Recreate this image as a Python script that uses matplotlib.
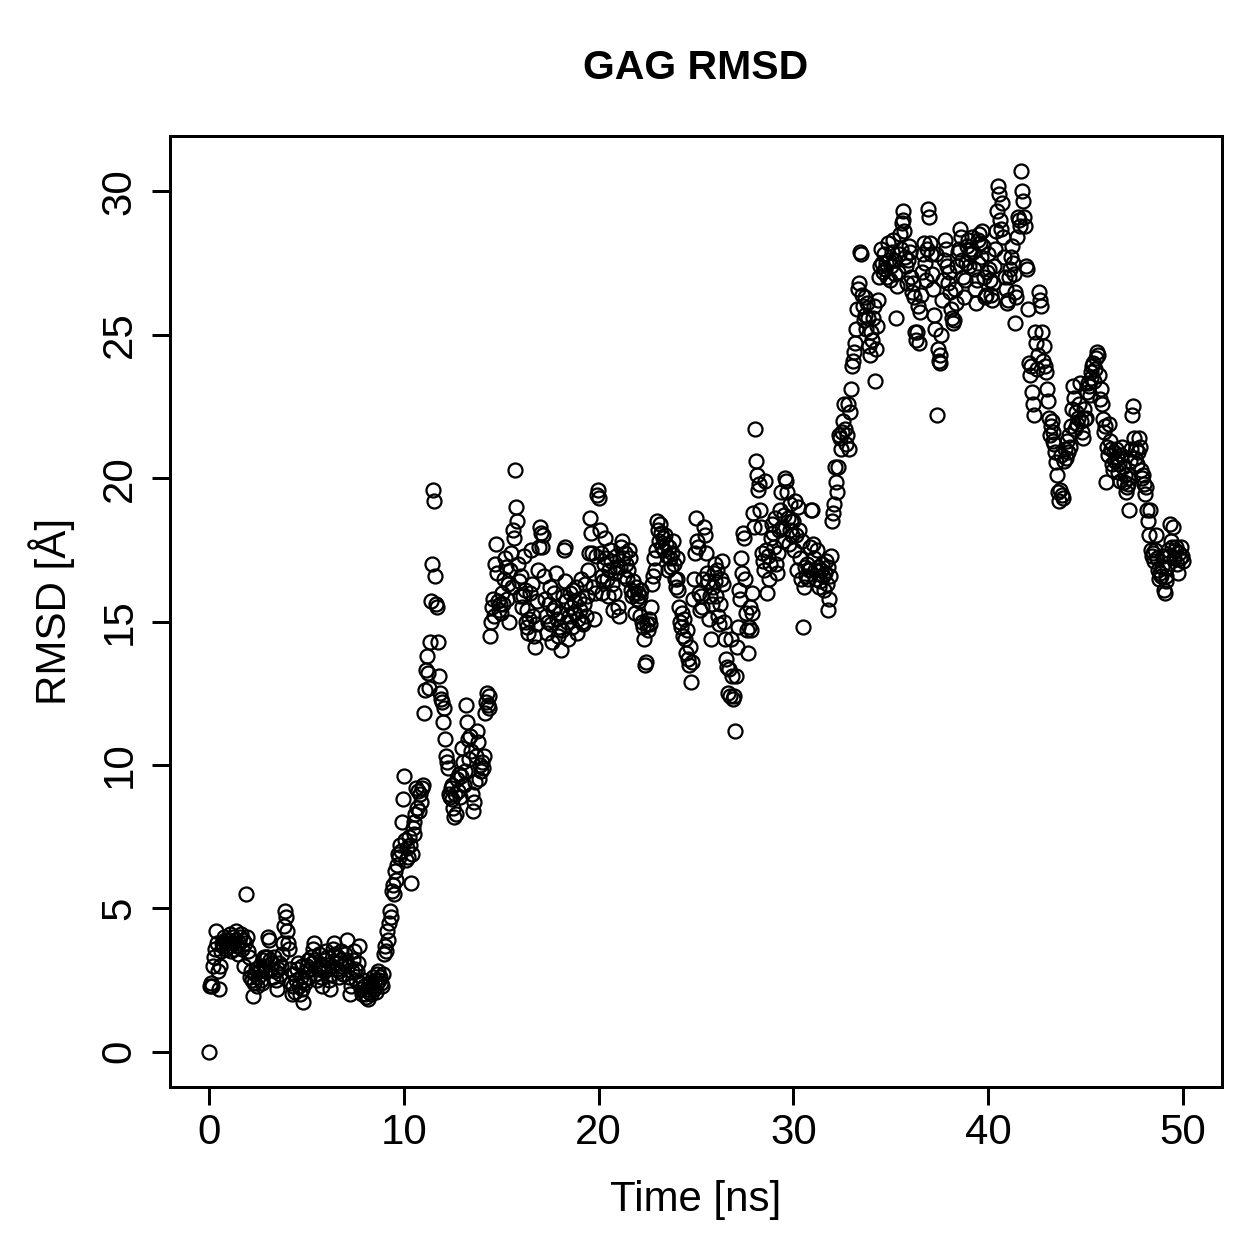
import numpy as np
import matplotlib
matplotlib.use("Agg")
import matplotlib.pyplot as plt

plt.rcParams['font.family'] = ['Liberation Sans', 'DejaVu Sans']

rmsd_00_05 = [
    0.0, 2.3, 2.4, 2.3, 3.0, 3.3, 3.6, 4.2, 3.8, 2.8, 2.2, 3.0, 3.5, 3.8, 3.7, 4.0, 3.9, 3.6, 3.8, 3.9,
    3.7, 3.9, 4.1, 3.5, 3.8, 4.0, 3.6, 3.9, 4.2, 3.7, 3.4, 3.8, 4.0, 4.1, 3.6, 3.9, 3.0, 3.8, 5.5, 4.0,
    3.5, 3.3, 2.6, 2.8, 2.5, 1.95, 2.4, 2.7, 2.9, 2.3, 2.6, 2.8, 3.0, 2.5, 2.4, 3.2, 3.3, 3.0, 2.8, 3.3,
    3.3, 4.0, 3.9, 3.2, 2.9, 3.1, 2.6, 3.3, 2.8, 2.5, 2.2, 2.9, 3.1, 2.7, 3.0, 3.4, 3.8, 4.4, 4.9, 4.7,
    4.2, 3.8, 3.6, 2.9, 2.4, 2.0, 2.3, 2.7, 2.1, 2.5, 2.9, 3.1, 2.3, 2.0, 2.6, 3.0, 2.2, 1.75, 2.5, 2.4,
]
rmsd_05_10 = [
    2.8, 3.0, 3.2, 2.6, 2.9, 3.3, 3.1, 3.6, 3.8, 3.2, 2.7, 2.5, 2.9, 3.4, 3.0, 2.6, 2.3, 3.0, 2.8, 3.2,
    3.5, 3.3, 2.9, 2.5, 2.2, 2.7, 3.0, 3.6, 3.8, 3.4, 3.1, 2.9, 3.3, 2.6, 2.8, 3.2, 3.5, 3.0, 2.7, 3.1,
    3.4, 3.2, 3.9, 3.0, 2.6, 2.0, 2.3, 2.8, 3.2, 3.5, 2.9, 2.5, 2.8, 3.1, 3.7, 2.4, 2.2, 2.0, 2.5, 2.3,
    2.0, 1.9, 2.2, 1.85, 2.1, 2.4, 2.0, 2.3, 2.6, 2.2, 2.5, 2.1, 2.7, 2.4, 2.8, 2.5, 2.6, 2.4, 2.3, 2.7,
    3.4, 3.7, 3.5, 4.2, 3.9, 4.5, 4.9, 4.7, 5.6, 5.8, 5.5, 6.3, 6.0, 6.5, 6.9, 6.8, 7.2, 7.0, 8.0, 8.8,
]
rmsd_10_15 = [
    9.6, 7.4, 6.7, 7.1, 6.8, 7.5, 7.2, 5.9, 6.9, 7.8, 8.0, 7.6, 8.3, 9.2, 8.5, 9.1, 8.4, 9.0, 8.7, 9.2,
    9.3, 11.8, 12.6, 13.3, 13.8, 13.2, 12.7, 14.3, 15.7, 17.0, 19.6, 19.2, 16.6, 15.6, 15.5, 14.3, 13.1, 12.5, 12.3, 12.2,
    11.5, 12.0, 10.9, 10.3, 10.1, 9.9, 9.0, 8.9, 9.2, 8.8, 9.3, 8.5, 8.2, 9.0, 8.3, 9.5, 9.1, 9.7, 8.9, 9.6,
    10.6, 10.1, 9.3, 9.8, 12.1, 11.5, 10.9, 10.2, 11.0, 10.5, 9.0, 8.4, 8.7, 9.4, 10.3, 11.2, 10.8, 9.5, 10.0, 9.8,
    10.1, 9.9, 10.3, 11.8, 12.2, 12.5, 12.1, 12.0, 12.4, 14.5, 15.0, 15.5, 15.8, 15.2, 17.0, 17.7, 16.7, 15.7, 15.4, 15.6,
]
rmsd_15_20 = [
    15.3, 16.0, 15.6, 16.5, 17.2, 16.9, 15.8, 16.3, 15.0, 16.8, 17.4, 16.2, 18.2, 17.9, 20.3, 19.0, 18.5, 17.0, 16.4, 15.9,
    16.6, 15.5, 15.9, 17.3, 16.1, 15.0, 14.8, 15.4, 14.6, 15.1, 16.0, 17.5, 16.3, 15.2, 14.5, 14.1, 14.9, 15.7, 16.8, 17.6,
    18.3, 18.1, 17.6, 18.0, 16.6, 15.8, 15.2, 14.6, 15.0, 15.6, 16.2, 14.9, 14.3, 15.4, 16.0, 15.5, 16.7, 15.1, 14.5, 14.8,
    15.3, 14.0, 14.7, 15.9, 17.5, 17.6, 16.4, 15.7, 15.0, 14.4, 15.2, 16.0, 15.5, 14.8, 16.1, 15.7, 15.3, 16.2, 14.6, 15.1,
    15.8, 15.4, 16.5, 15.0, 14.9, 15.6, 16.3, 15.2, 15.9, 16.8, 17.4, 18.6, 18.1, 17.4, 16.2, 15.1, 16.0, 17.3, 19.4, 19.6,
]
rmsd_20_25 = [
    19.3, 18.2, 17.4, 16.6, 16.0, 16.4, 17.0, 17.9, 17.2, 16.5, 15.9, 16.8, 17.5, 17.1, 16.3, 15.4, 16.0, 16.7, 17.3, 16.9,
    15.5, 15.2, 16.9, 17.6, 17.8, 17.2, 16.6, 17.4, 17.0, 16.5, 16.8, 17.5, 17.2, 16.1, 15.9, 16.4, 16.0, 15.3, 16.2, 15.8,
    16.0, 15.7, 15.9, 15.2, 16.1, 15.0, 14.8, 14.4, 13.5, 13.6, 14.9, 14.7, 15.1, 14.9, 15.5, 16.3, 16.6, 17.2, 16.8, 17.5,
    18.5, 18.2, 17.8, 18.4, 18.1, 17.6, 17.9, 17.5, 18.0, 17.7, 17.3, 16.8, 17.6, 17.2, 16.9, 17.4, 17.8, 17.0, 16.5, 16.2,
    17.2, 16.5, 16.1, 15.5, 15.0, 14.8, 15.3, 14.5, 15.1, 14.4, 13.9, 14.7, 13.7, 13.5, 14.1, 12.9, 13.6, 15.8, 16.5, 17.4,
]
rmsd_25_30 = [
    18.6, 17.8, 17.6, 16.0, 15.4, 15.9, 15.5, 16.5, 18.3, 18.0, 17.4, 16.7, 16.4, 15.1, 15.9, 14.4, 15.6, 16.2, 16.7, 17.0,
    16.4, 15.9, 16.8, 15.2, 14.9, 15.6, 16.5, 17.1, 16.3, 15.0, 14.4, 13.7, 13.4, 12.5, 13.35, 12.4, 14.4, 13.1, 12.3, 12.4,
    11.2, 13.1, 14.1, 14.8, 16.1, 15.8, 17.2, 16.7, 18.1, 17.9, 16.5, 15.3, 14.7, 13.9, 14.8, 15.5, 14.7, 15.3, 16.0, 18.8,
    18.3, 21.7, 20.6, 20.1, 19.6, 19.8, 18.9, 18.3, 17.4, 17.1, 16.8, 19.9, 17.5, 16.0, 17.3, 16.5, 17.0, 17.9, 18.4, 18.1,
    17.6, 18.6, 17.0, 16.7, 17.4, 18.2, 18.9, 19.5, 18.3, 17.8, 18.7, 20.0, 19.9, 19.5, 18.6, 17.7, 18.2, 19.1, 18.5, 18.0,
]
rmsd_30_35 = [
    18.5, 17.5, 19.2, 18.0, 16.8, 19.0, 18.2, 17.2, 16.5, 17.8, 14.8, 16.2, 16.9, 16.6, 17.0, 16.5, 16.8, 17.6, 18.9, 18.9,
    17.7, 17.2, 16.8, 16.5, 17.5, 16.9, 16.2, 16.4, 16.8, 17.0, 16.6, 16.1, 16.7, 17.1, 16.3, 16.9, 15.4, 15.8, 16.6, 17.3,
    18.5, 18.8, 19.1, 20.4, 19.85, 19.5, 20.4, 21.5, 21.4, 21.0, 21.6, 22.0, 22.6, 21.7, 21.2, 21.5, 22.6, 21.0, 22.3, 23.1,
    23.9, 24.1, 24.4, 24.7, 25.2, 25.9, 26.6, 26.8, 27.9, 27.8, 26.4, 26.0, 25.5, 26.3, 25.7, 25.2, 26.1, 25.6, 24.6, 24.3,
    25.1, 24.8, 25.6, 26.0, 23.4, 24.5, 25.3, 26.2, 27.0, 27.4, 28.0, 27.5, 27.2, 27.8, 27.3, 27.5, 27.0, 28.2, 27.6, 26.9,
]
rmsd_35_40 = [
    27.4, 27.9, 28.3, 27.6, 27.1, 25.6, 26.7, 27.2, 27.8, 28.5, 28.0, 28.9, 29.3, 29.0, 28.6, 27.7, 27.4, 26.8, 27.6, 28.1,
    27.9, 27.0, 26.5, 26.8, 26.3, 25.1, 24.8, 25.1, 26.0, 24.7, 25.8, 26.4, 27.2, 27.8, 28.2, 27.5, 26.9, 28.0, 29.4, 29.1,
    28.2, 27.8, 27.1, 26.6, 25.7, 25.2, 27.8, 22.2, 24.5, 24.1, 24.0, 24.3, 25.0, 26.2, 26.9, 27.6, 28.3, 28.0, 27.4, 26.8,
    27.2, 26.5, 25.9, 25.6, 25.4, 25.5, 26.6, 26.1, 27.4, 27.9, 28.0, 28.7, 28.4, 27.6, 27.0, 26.3, 26.9, 27.5, 28.1, 28.3,
    27.4, 27.8, 28.0, 28.4, 27.9, 27.3, 26.6, 26.1, 26.9, 27.5, 28.3, 28.5, 28.2, 27.7, 28.6, 28.1, 27.0, 26.3, 26.4, 27.2,
]
rmsd_40_45 = [
    27.8, 27.3, 26.9, 26.4, 26.2, 26.8, 27.4, 28.0, 28.6, 29.3, 30.2, 29.9, 29.0, 28.7, 29.6, 28.4, 27.7, 27.0, 26.6, 26.1,
    26.2, 27.0, 27.3, 27.7, 28.1, 27.5, 27.1, 26.5, 25.4, 26.3, 28.4, 29.1, 29.0, 28.8, 30.7, 30.0, 29.65, 29.1, 28.8, 27.4,
    27.3, 25.9, 24.0, 23.6, 23.9, 23.0, 22.6, 22.2, 25.1, 24.7, 23.8, 24.3, 26.5, 26.2, 26.0, 25.1, 24.1, 24.6, 23.9, 23.7,
    23.1, 22.7, 22.1, 21.5, 21.8, 22.0, 21.3, 21.6, 21.2, 20.9, 20.55, 20.1, 19.5, 19.2, 19.6, 20.8, 19.4, 19.3, 20.6, 21.0,
    20.7, 21.3, 20.9, 21.5, 21.1, 21.8, 22.4, 23.2, 22.8, 21.7, 22.3, 21.9, 22.1, 22.6, 23.3, 22.0, 21.6, 21.4, 22.4, 22.05,
]
rmsd_45_50 = [
    22.1, 23.0, 23.3, 23.2, 22.9, 23.5, 23.7, 23.9, 24.0, 23.4, 23.8, 24.2, 24.4, 24.3, 23.6, 22.75, 23.1, 22.6, 22.05, 21.6,
    21.8, 19.85, 21.1, 20.8, 21.9, 21.3, 21.0, 20.5, 20.3, 20.9, 20.6, 21.0, 20.7, 20.2, 20.5, 19.9, 20.8, 21.1, 20.4, 19.85,
    20.1, 19.5, 19.7, 20.0, 19.8, 18.9, 20.6, 21.0, 22.2, 22.5, 21.4, 20.7, 21.0, 20.5, 20.9, 21.4, 21.1, 20.3, 20.0, 20.1,
    19.8, 19.45, 19.7, 18.9, 18.5, 18.0, 18.9, 17.5, 17.3, 17.4, 17.1, 17.5, 18.0, 17.2, 16.8, 16.5, 16.7, 16.6, 16.9, 17.3,
    16.1, 16.0, 16.6, 16.4, 16.9, 17.5, 17.3, 18.4, 17.8, 17.6, 18.3, 17.2, 17.5, 17.6, 17.0, 16.7, 17.4, 17.2, 17.6, 17.3,
    17.1,
]

rmsd = np.array(rmsd_00_05 + rmsd_05_10 + rmsd_10_15 + rmsd_15_20 + rmsd_20_25
                + rmsd_25_30 + rmsd_30_35 + rmsd_35_40 + rmsd_40_45 + rmsd_45_50)
time_ns = np.linspace(0, 50, len(rmsd))

x_ticks = [0, 10, 20, 30, 40, 50]
y_ticks = [0, 5, 10, 15, 20, 25, 30]
title = "GAG RMSD"
x_label = "Time [ns]"
y_label = "RMSD [Å]"

W = 1259
dpi = 180
fig = plt.figure(figsize=(W / dpi, W / dpi), dpi=dpi)
L, R, T, B = 170, 1222, 136, 1087
ax = fig.add_axes([L / W, 1 - B / W, (R - L) / W, (B - T) / W])

ax.plot(time_ns, rmsd, linestyle='none', marker='o', markersize=5.6,
        markerfacecolor='none', markeredgecolor='black', markeredgewidth=0.9)

xr = time_ns.max() - time_ns.min()
yr = rmsd.max() - rmsd.min()
ax.set_xlim(time_ns.min() - 0.04 * xr, time_ns.max() + 0.04 * xr)
ax.set_ylim(rmsd.min() - 0.04 * yr, rmsd.max() + 0.04 * yr)

for s in ax.spines.values():
    s.set_linewidth(1.2)
    s.set_color('black')

fs = 16.8
ax.set_xticks(x_ticks)
ax.set_yticks(y_ticks)
ax.set_xticklabels([str(v) for v in x_ticks])
ax.set_yticklabels([str(v) for v in y_ticks], rotation=90, va='center')
ax.tick_params(axis='both', direction='out', length=7.2, width=1.2,
               labelsize=fs, colors='black')
ax.tick_params(axis='x', pad=3.0)
ax.tick_params(axis='y', pad=5.0)

fig.text(0.5 * (L + R) / W, 1 - 68 / W, title, ha='center', va='center',
         fontsize=16.4, fontweight='bold')
fig.text(0.5 * (L + R) / W, 1 - 1200 / W, x_label, ha='center', va='center',
         fontsize=fs)
fig.text(52 / W, 1 - 0.5 * (T + B) / W, y_label, ha='center', va='center',
         fontsize=fs, rotation=90)

fig.savefig("out.png", dpi=dpi)
